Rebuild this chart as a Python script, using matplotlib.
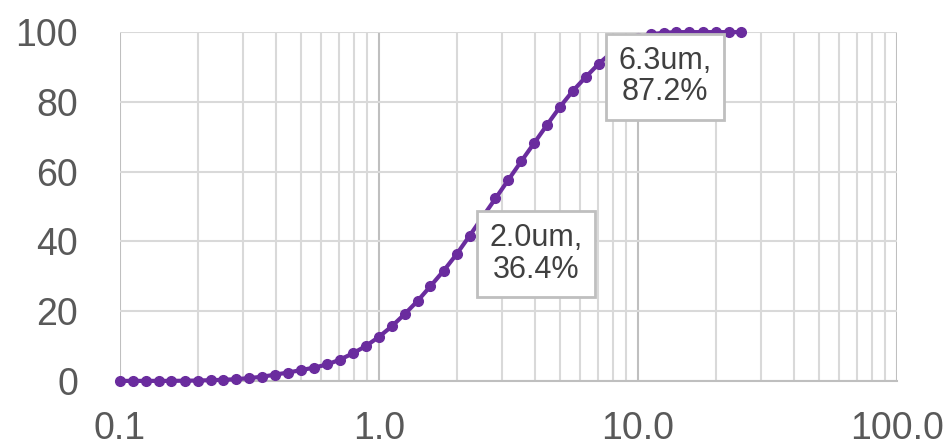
import numpy as np
import matplotlib.pyplot as plt
from matplotlib.ticker import FixedLocator, LogLocator, NullFormatter

plt.rcParams['font.family'] = ['Liberation Sans', 'DejaVu Sans']

# particle size (um) and cumulative passing (%)
size_um = [0.100, 0.112, 0.126, 0.141, 0.158, 0.178, 0.200, 0.224, 0.251, 0.282,
           0.316, 0.355, 0.398, 0.447, 0.501, 0.562, 0.631, 0.708, 0.794, 0.891,
           1.00, 1.12, 1.26, 1.41, 1.58, 1.78, 2.00, 2.24, 2.51, 2.82,
           3.16, 3.55, 3.98, 4.47, 5.01, 5.62, 6.31, 7.08, 7.94, 8.91,
           10.0, 11.2, 12.6, 14.1, 15.8, 17.8, 20.0, 22.4, 25.1]
passing = [0.0, 0.0, 0.0, 0.0, 0.0, 0.05, 0.1, 0.2, 0.3, 0.5,
           0.8, 1.2, 1.8, 2.4, 3.1, 3.8, 4.7, 6.1, 7.9, 10.0,
           12.6, 15.6, 19.2, 22.9, 27.1, 31.6, 36.4, 41.6, 46.9, 52.3,
           57.6, 63.0, 68.2, 73.5, 78.6, 83.2, 87.2, 91.0, 94.2, 96.7,
           98.4, 99.4, 99.8, 100.0, 100.0, 100.0, 100.0, 100.0, 100.0]

x_ticks = [0.1, 1, 10, 100]
x_labels = ['0.1', '1.0', '10.0', '100.0']
y_ticks = [0, 20, 40, 60, 80, 100]

labels = [(2.00, 36.4, '2.0um,\n36.4%'), (6.31, 87.2, '6.3um,\n87.2%')]

fig = plt.figure(figsize=(9.44, 4.46), dpi=100)
ax = fig.add_axes([0.127, 0.146, 0.823, 0.782])

ax.plot(size_um, passing, color='#6a2c9e', lw=3, marker='o', ms=7,
        clip_on=False, zorder=3)

ax.set_xscale('log')
ax.set_xlim(0.1, 100)
ax.set_ylim(0, 100)

ax.xaxis.set_major_locator(FixedLocator(x_ticks))
ax.set_xticklabels(x_labels)
ax.xaxis.set_minor_locator(LogLocator(base=10, subs=np.arange(2, 10)))
ax.xaxis.set_minor_formatter(NullFormatter())
ax.set_yticks(y_ticks)

ax.grid(True, which='major', axis='x', color='#bfbfbf', lw=1.5)
ax.grid(True, which='minor', axis='x', color='#d9d9d9', lw=1.5)
ax.grid(True, which='major', axis='y', color='#d9d9d9', lw=1.5)
ax.set_axisbelow(True)

for s in ['top', 'right', 'left']:
    ax.spines[s].set_visible(False)
ax.spines['bottom'].set_color('#bfbfbf')
ax.spines['bottom'].set_linewidth(1.5)

ax.tick_params(which='both', length=0)
ax.tick_params(axis='x', pad=22, labelsize=27, labelcolor='#595959')
ax.tick_params(axis='y', pad=30, labelsize=27, labelcolor='#595959')

for xv, yv, txt in labels:
    ax.annotate(txt, xy=(xv, yv), xytext=(57, 0), textcoords='offset points',
                ha='center', va='center', fontsize=22, color='#404040',
                linespacing=1.05, zorder=4,
                bbox=dict(boxstyle='square,pad=0.4', fc='white',
                          ec='#bfbfbf', lw=2))

plt.savefig('out.png', dpi=100)
